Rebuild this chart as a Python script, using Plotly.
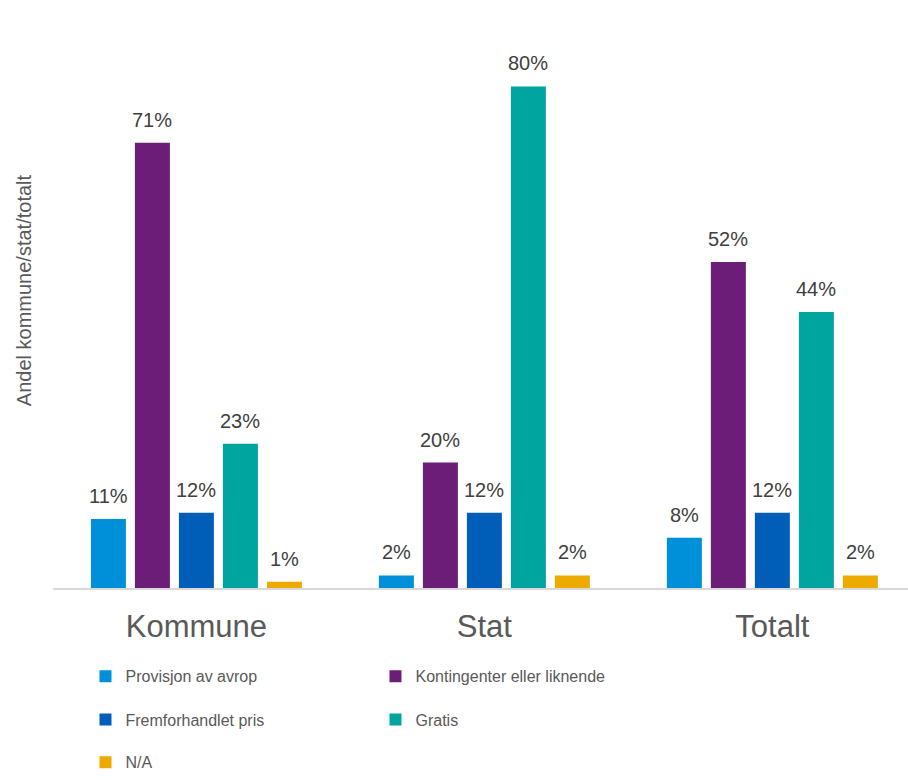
import plotly.graph_objects as go

# Categories and shares (percent) per pricing model
categories = ["Kommune", "Stat", "Totalt"]
series_names = [
    "Provisjon av avrop",
    "Kontingenter eller liknende",
    "Fremforhandlet pris",
    "Gratis",
    "N/A",
]
provisjon = [11, 2, 8]
kontingenter = [71, 20, 52]
fremforhandlet = [12, 12, 12]
gratis = [23, 80, 44]
na_values = [1, 2, 2]

series_values = [provisjon, kontingenter, fremforhandlet, gratis, na_values]
colors = ["#0090DA", "#6C1D78", "#005EB8", "#00A5A0", "#EDAA00"]
legend_ids = ["legend", "legend", "legend2", "legend2", "legend3"]

FONT = "Liberation Sans, Arial, sans-serif"
SLOT_PX = 44  # pixel width of one bar slot inside a category group

fig = go.Figure()
annotations = []
n_series = len(series_names)
for i, (name, vals, color, lg) in enumerate(
    zip(series_names, series_values, colors, legend_ids)
):
    fig.add_trace(
        go.Bar(
            name=name,
            x=categories,
            y=vals,
            marker=dict(color=color, line=dict(width=0)),
            legend=lg,
        )
    )
    # value labels sitting above each bar
    offset = (i - (n_series - 1) / 2) * SLOT_PX
    for cat, v in zip(categories, vals):
        annotations.append(
            dict(
                x=cat,
                y=v,
                xref="x",
                yref="y",
                text=f"{v}%",
                showarrow=False,
                xanchor="center",
                yanchor="bottom",
                xshift=offset,
                yshift=10,
                font=dict(family=FONT, size=20, color="#404040"),
            )
        )

annotations.append(
    dict(
        text="Andel kommune/stat/totalt",
        textangle=-90,
        xref="paper",
        yref="paper",
        x=0,
        y=0.5435,
        xanchor="center",
        yanchor="middle",
        xshift=-29,
        showarrow=False,
        font=dict(family=FONT, size=20, color="#595959"),
    )
)

legend_common = dict(
    orientation="h",
    xanchor="left",
    yanchor="middle",
    x=0.038,
    entrywidth=245,
    entrywidthmode="pixels",
    font=dict(family=FONT, size=16, color="#595959"),
    bgcolor="rgba(0,0,0,0)",
    itemclick=False,
)

fig.update_layout(
    width=908,
    height=780,
    margin=dict(l=53, r=0, t=40, b=192),
    paper_bgcolor="white",
    plot_bgcolor="white",
    barmode="group",
    bargap=0.236,
    bargroupgap=0.205,
    showlegend=True,
    legend=dict(legend_common, y=-0.161),
    legend2=dict(legend_common, y=-0.240),
    legend3=dict(legend_common, y=-0.318),
    xaxis=dict(
        range=[-0.498, 2.471],
        showline=True,
        linecolor="#D9D9D9",
        linewidth=2,
        ticks="",
        showgrid=False,
        tickfont=dict(family=FONT, size=31, color="#595959"),
        ticklabelstandoff=10,
    ),
    yaxis=dict(
        range=[0, 87.4],
        showgrid=False,
        zeroline=False,
        showticklabels=False,
        ticks="",
    ),
    annotations=annotations,
)

fig.write_html("out.html")
